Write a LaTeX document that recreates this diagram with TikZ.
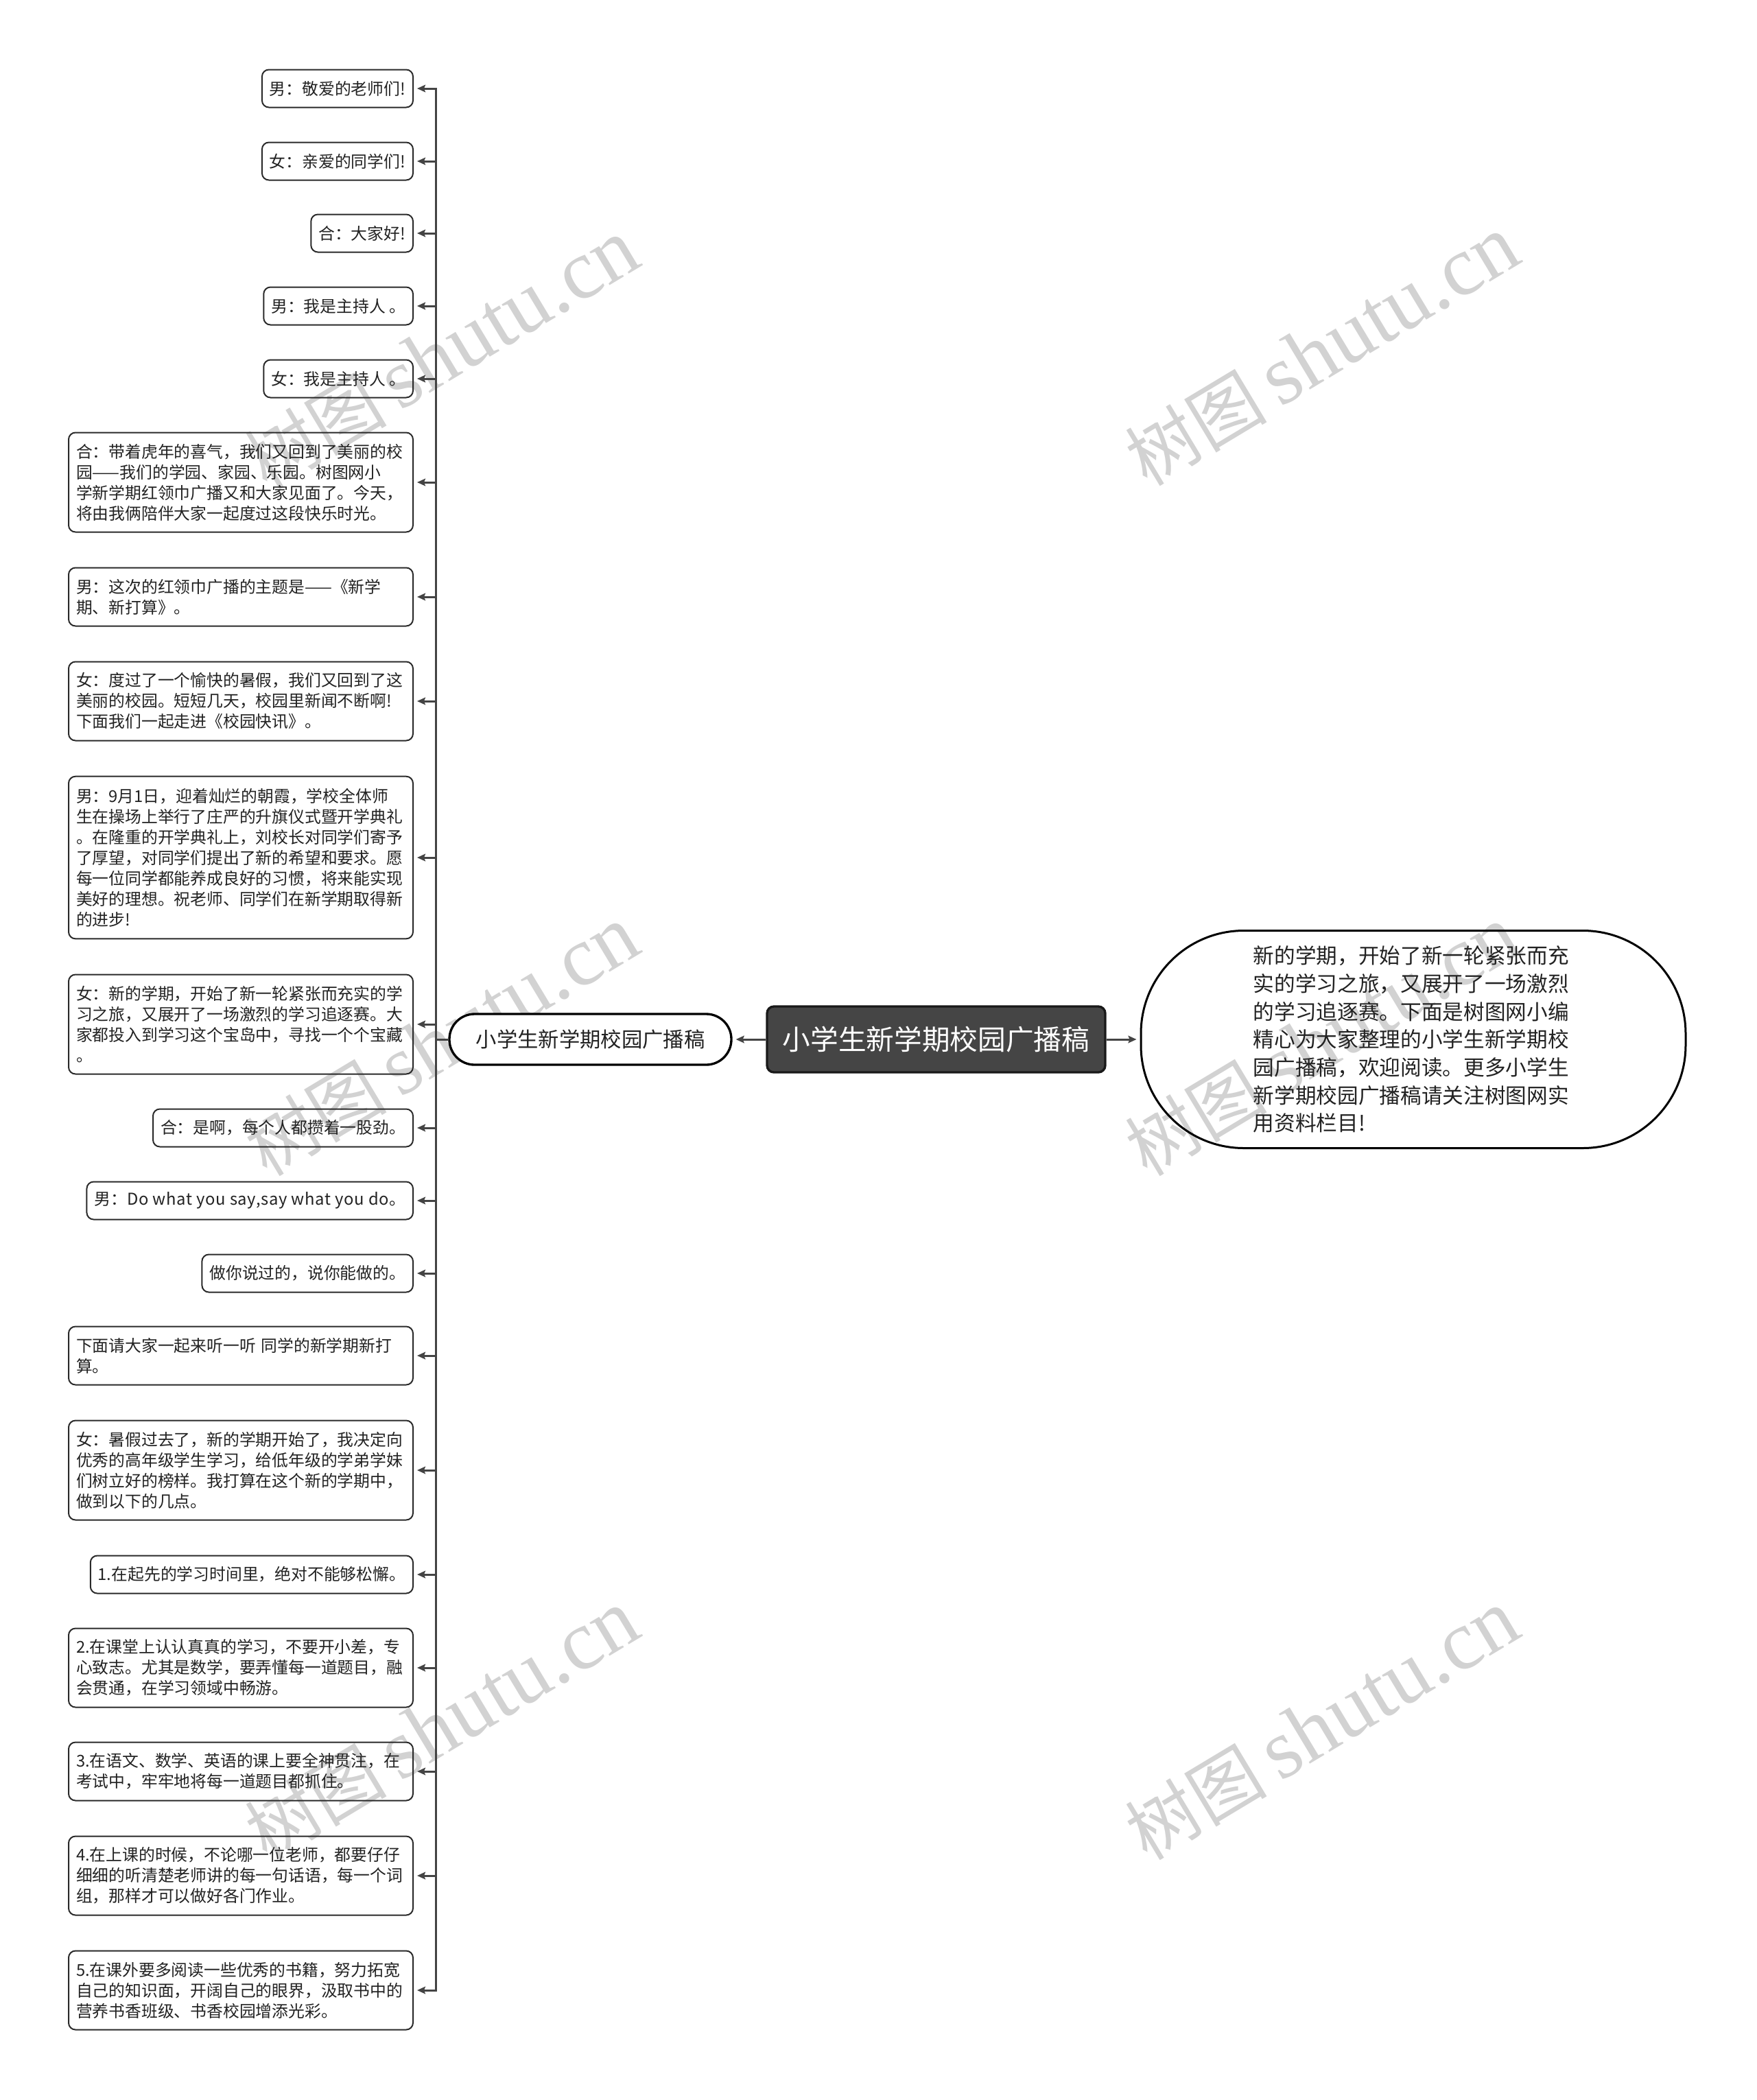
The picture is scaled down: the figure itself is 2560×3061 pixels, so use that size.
\documentclass[tikz,border=0pt]{standalone}
\usepackage{fontspec}
\setmainfont{Noto Sans CJK SC}
\newfontfamily\wmserif{Liberation Serif}
\usetikzlibrary{arrows.meta}
\definecolor{linec}{HTML}{444444}
\definecolor{rootfill}{HTML}{454545}
\definecolor{wmgray}{HTML}{D2D2D2}
\definecolor{boxline}{HTML}{2A2A2A}
\definecolor{txt}{HTML}{222222}
\tikzset{
  leaf/.style={draw=boxline, line width=0.6pt, rounded corners=3pt, anchor=east,
    inner xsep=3.3pt, inner ysep=0pt, font=\fontsize{7.14pt}{9pt}\selectfont, text=txt},
  leafm/.style={leaf, text width=144pt, align=left},
  hA/.style={minimum height=16.5pt},
  hB/.style={minimum height=25.5pt},
  hC/.style={minimum height=34.5pt},
  hD/.style={minimum height=43.5pt},
  hG/.style={minimum height=71pt},
  conn/.style={draw=linec, line width=0.9pt},
  arr/.style={-{Stealth[length=3.6pt,width=3.2pt,inset=0.6pt]}, shorten >=1.5pt},
  wm/.style={text=wmgray, rotate=31, inner sep=0pt},
  rootbox/.style={draw=black!90, fill=rootfill, line width=1pt, rounded corners=3pt,
    minimum width=147.9pt, minimum height=28.8pt, text=white, inner sep=0pt,
    font=\fontsize{12.2pt}{14pt}\selectfont},
  branchbox/.style={draw=black, fill=white, line width=1pt, rounded corners=11pt,
    minimum width=123.3pt, minimum height=22.2pt, inner sep=0pt, text=txt,
    font=\fontsize{9.1pt}{11pt}\selectfont},
  descbox/.style={draw=black, line width=0.9pt, rounded corners=45pt,
    minimum width=238.2pt, minimum height=95.1pt, text width=140pt, align=left,
    text=txt, font=\fontsize{9.2pt}{12.2pt}\selectfont}
}
\newcommand{\wmtext}{{\fontsize{31pt}{31pt}\selectfont 树图}\hspace{6pt}{\wmserif\fontsize{37pt}{37pt}\selectfont shutu.cn}}
\begin{document}
\begin{tikzpicture}[x=0.3pt, y=-0.3pt]
\useasboundingbox (0,0) rectangle (2560,3061);
% watermarks
\node[wm] (wm1) at (644,517) {\wmtext};
\node[wm] (wm2) at (1927,512) {\wmtext};
\node[wm] (wm3) at (644,1518) {\wmtext};
\node[wm] (wm4) at (1927,1518) {\wmtext};
\node[wm] (wm5) at (644,2515) {\wmtext};
\node[wm] (wm6) at (1927,2515) {\wmtext};

% central nodes
\node[rootbox] (root) at (1364.5,1515) {小学生新学期校园广播稿};
\node[branchbox] (branch) at (860.5,1515) {小学生新学期校园广播稿};
\node[descbox] (desc) at (2060,1515) {新的学期，开始了新一轮紧张而充\\实的学习之旅，又展开了一场激烈\\的学习追逐赛。下面是树图网小编\\精心为大家整理的小学生新学期校\\园广播稿，欢迎阅读。更多小学生\\新学期校园广播稿请关注树图网实\\用资料栏目!};

% leaves
\node[leaf,hA] (l1) at (603,129) {男：敬爱的老师们!};
\node[leaf,hA] (l2) at (603,235) {女：亲爱的同学们!};
\node[leaf,hA] (l3) at (603,340) {合：大家好!};
\node[leaf,hA] (l4) at (603,446) {男：我是主持人 。};
\node[leaf,hA] (l5) at (603,552) {女：我是主持人 。};
\node[leafm,hD] (l6) at (603,703) {合：带着虎年的喜气，我们又回到了美丽的校\\园——我们的学园、家园、乐园。树图网小\\学新学期红领巾广播又和大家见面了。今天，\\将由我俩陪伴大家一起度过这段快乐时光。};
\node[leafm,hB] (l7) at (603,870) {男：这次的红领巾广播的主题是——《新学\\期、新打算》。};
\node[leafm,hC] (l8) at (603,1022) {女：度过了一个愉快的暑假，我们又回到了这\\美丽的校园。短短几天，校园里新闻不断啊!\\下面我们一起走进《校园快讯》。};
\node[leafm,hG] (l9) at (603,1250) {男：9月1日，迎着灿烂的朝霞，学校全体师\\生在操场上举行了庄严的升旗仪式暨开学典礼\\。在隆重的开学典礼上，刘校长对同学们寄予\\了厚望，对同学们提出了新的希望和要求。愿\\每一位同学都能养成良好的习惯，将来能实现\\美好的理想。祝老师、同学们在新学期取得新\\的进步!};
\node[leafm,hD] (l10) at (603,1493) {女：新的学期，开始了新一轮紧张而充实的学\\习之旅，又展开了一场激烈的学习追逐赛。大\\家都投入到学习这个宝岛中，寻找一个个宝藏\\。};
\node[leaf,hA] (l11) at (603,1644) {合：是啊，每个人都攒着一股劲。};
\node[leaf,hA] (l12) at (603,1750) {男：{\addfontfeature{LetterSpace=3}Do what you say,say what you do}。};
\node[leaf,hA] (l13) at (603,1856) {做你说过的，说你能做的。};
\node[leafm,hB] (l14) at (603,1976) {下面请大家一起来听一听 同学的新学期新打\\算。};
\node[leafm,hD] (l15) at (603,2143) {女：暑假过去了，新的学期开始了，我决定向\\优秀的高年级学生学习，给低年级的学弟学妹\\们树立好的榜样。我打算在这个新的学期中，\\做到以下的几点。};
\node[leaf,hA] (l16) at (603,2295) {1.在起先的学习时间里，绝对不能够松懈。};
\node[leafm,hC] (l17) at (603,2431) {2.在课堂上认认真真的学习，不要开小差，专\\心致志。尤其是数学，要弄懂每一道题目，融\\会贯通，在学习领域中畅游。};
\node[leafm,hB] (l18) at (603,2582) {3.在语文、数学、英语的课上要全神贯注，在\\考试中，牢牢地将每一道题目都抓住。};
\node[leafm,hC] (l19) at (603,2734) {4.在上课的时候，不论哪一位老师，都要仔仔\\细细的听清楚老师讲的每一句话语，每一个词\\组，那样才可以做好各门作业。};
\node[leafm,hC] (l20) at (603,2901) {5.在课外要多阅读一些优秀的书籍，努力拓宽\\自己的知识面，开阔自己的眼界，汲取书中的\\营养书香班级、书香校园增添光彩。};

% connectors
\draw[conn,arr] (root.west) -- (branch.east);
\draw[conn,arr] (root.east) -- (desc.west);
\foreach \n in {l1,l2,l3,l4,l5,l6,l7,l8,l9,l10,l11,l12,l13,l14,l15,l16,l17,l18,l19,l20}{
  \draw[conn,arr] (branch.west) -- ++(-18,0) |- (\n.east);
}
\end{tikzpicture}
\end{document}
